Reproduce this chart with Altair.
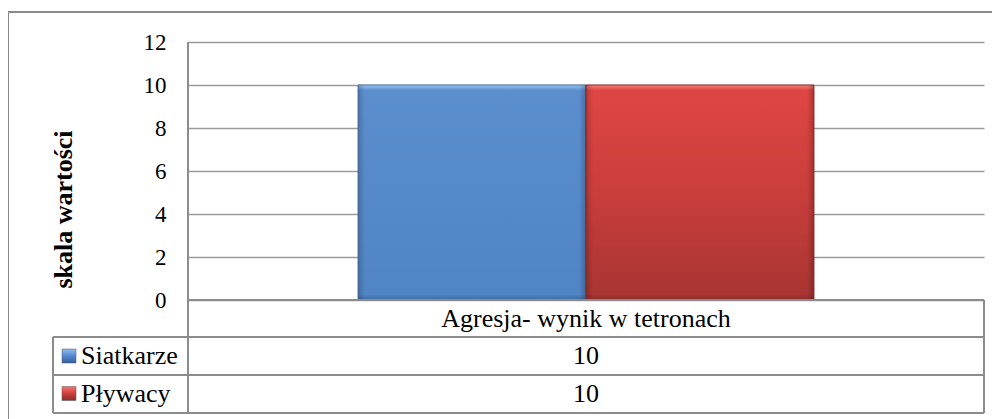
import altair as alt
import pandas as pd

# ---- data ----
categories = ["Agresja- wynik w tetronach"]
series = ["Siatkarze", "Pływacy"]
siatkarze_values = [10]
plywacy_values = [10]
y_ticks = [0, 2, 4, 6, 8, 10, 12]
y_title = "skala wartości"

rows = []
for i, c in enumerate(categories):
    rows.append({"category": c, "series": series[0], "value": siatkarze_values[i]})
    rows.append({"category": c, "series": series[1], "value": plywacy_values[i]})
df = pd.DataFrame(rows)
cat_df = pd.DataFrame({"category": categories})

# ---- style ----
W, H = 796, 258
FONT = "'Liberation Serif', 'Times New Roman', Times, serif"
LINE = "#8C8C8C"
GRID = "#9A9A9A"

bar_stops = {
    "Siatkarze": [(0, "#9CC4F4"), (0.025, "#5C8ECE"), (0.5, "#5689C9"), (0.975, "#5084C4"), (1, "#3C68A3")],
    "Pływacy": [(0, "#F4807C"), (0.025, "#DE4644"), (0.5, "#C93E3B"), (0.975, "#A83533"), (1, "#8A2B29")],
}
key_stops = {
    "Siatkarze": [(0, "#8FBDF3"), (0.45, "#5A8DD0"), (1, "#2F5E9E")],
    "Pływacy": [(0, "#F37A76"), (0.45, "#D2413E"), (1, "#8E2C2A")],
}
bar_strokes = {"Siatkarze": "#4472AE", "Pływacy": "#8E2E2B"}
row_y = {"Siatkarze": 314, "Pływacy": 351.5}


def grad(stops, horizontal=False):
    return alt.LinearGradient(
        gradient="linear",
        x1=0, y1=0,
        x2=1 if horizontal else 0,
        y2=0 if horizontal else 1,
        stops=[alt.GradientStop(offset=o, color=c) for o, c in stops],
    )


x_enc = alt.X(
    "category:N",
    scale=alt.Scale(domain=categories, paddingInner=0, paddingOuter=0.373),
    axis=None,
)
xo_enc = alt.XOffset(
    "series:N", scale=alt.Scale(domain=series, paddingInner=0, paddingOuter=0)
)
y_enc = alt.Y(
    "value:Q",
    scale=alt.Scale(domain=[0, 12], nice=False, zero=True),
    axis=alt.Axis(
        values=y_ticks,
        grid=True,
        gridColor=GRID,
        gridWidth=1.5,
        domain=False,
        ticks=False,
        labelFont=FONT,
        labelFontSize=23,
        labelColor="black",
        labelPadding=22,
        title=y_title,
        titleFont=FONT,
        titleFontSize=26,
        titleFontWeight="bold",
        titleColor="black",
        titleAngle=270,
        titleX=-125,
        titleY=167,
        titleAlign="center",
        titleBaseline="middle",
    ),
)

one = alt.Data(values=[{}])


def hrule(x1, x2, y):
    return alt.Chart(one).mark_rule(color=LINE, strokeWidth=2).encode(
        x=alt.value(x1), x2=alt.value(x2), y=alt.value(y)
    )


def vrule(x, y1, y2):
    return alt.Chart(one).mark_rule(color=LINE, strokeWidth=2).encode(
        x=alt.value(x), y=alt.value(y1), y2=alt.value(y2)
    )


layers = []

# outer chart border
layers.append(
    alt.Chart(one).mark_rect(fill=None, stroke="#898989", strokeWidth=2).encode(
        x=alt.value(-180), x2=alt.value(830), y=alt.value(-30), y2=alt.value(400)
    )
)

# bars
for s in series:
    layers.append(
        alt.Chart(df)
        .transform_filter(alt.datum.series == s)
        .mark_bar(fill=grad(bar_stops[s]), stroke=bar_strokes[s], strokeWidth=1)
        .encode(x=x_enc, xOffset=xo_enc, y=y_enc)
    )
# side bevel shading
layers.append(
    alt.Chart(df)
    .mark_bar(
        fill=grad(
            [
                (0, "rgba(0,0,0,0.18)"),
                (0.03, "rgba(0,0,0,0)"),
                (0.97, "rgba(0,0,0,0)"),
                (1, "rgba(0,0,0,0.22)"),
            ],
            horizontal=True,
        )
    )
    .encode(x=x_enc, xOffset=xo_enc, y=y_enc)
)

# data table lines
layers += [
    hrule(0, W, H),
    hrule(-135, W, 295),
    hrule(-135, W, 333),
    hrule(-135, W, 371),
    vrule(0, 0, 371),
    vrule(-135, 295, 371),
    vrule(W, H, 371),
]

# category label in table
layers.append(
    alt.Chart(cat_df)
    .mark_text(font=FONT, fontSize=26, color="black", baseline="middle", align="center")
    .encode(x=x_enc, y=alt.value(276.5), text="category:N")
)

# table rows: legend key, series name, values
for s in series:
    yy = row_y[s]
    layers.append(
        alt.Chart(one).mark_rect(fill=grad(key_stops[s]), stroke="#555555", strokeWidth=0.5).encode(
            x=alt.value(-126), x2=alt.value(-112), y=alt.value(yy - 7), y2=alt.value(yy + 7)
        )
    )
    layers.append(
        alt.Chart(df)
        .transform_filter(alt.datum.series == s)
        .transform_aggregate(series="min(series)")
        .mark_text(font=FONT, fontSize=26, color="black", baseline="middle", align="left")
        .encode(x=alt.value(-107), y=alt.value(yy), text="series:N")
    )
    layers.append(
        alt.Chart(df)
        .transform_filter(alt.datum.series == s)
        .mark_text(font=FONT, fontSize=26, color="black", baseline="middle", align="center")
        .encode(x=x_enc, y=alt.value(yy), text="value:Q")
    )

chart = (
    alt.layer(*layers)
    .properties(
        width=W,
        height=H,
        autosize=alt.AutoSizeParams(type="none"),
        padding={"left": 180, "top": 34, "right": 8, "bottom": 122},
        background="white",
    )
    .configure_view(stroke=None)
)

chart.save("out.html", embed_options={"renderer": "svg", "actions": False})
